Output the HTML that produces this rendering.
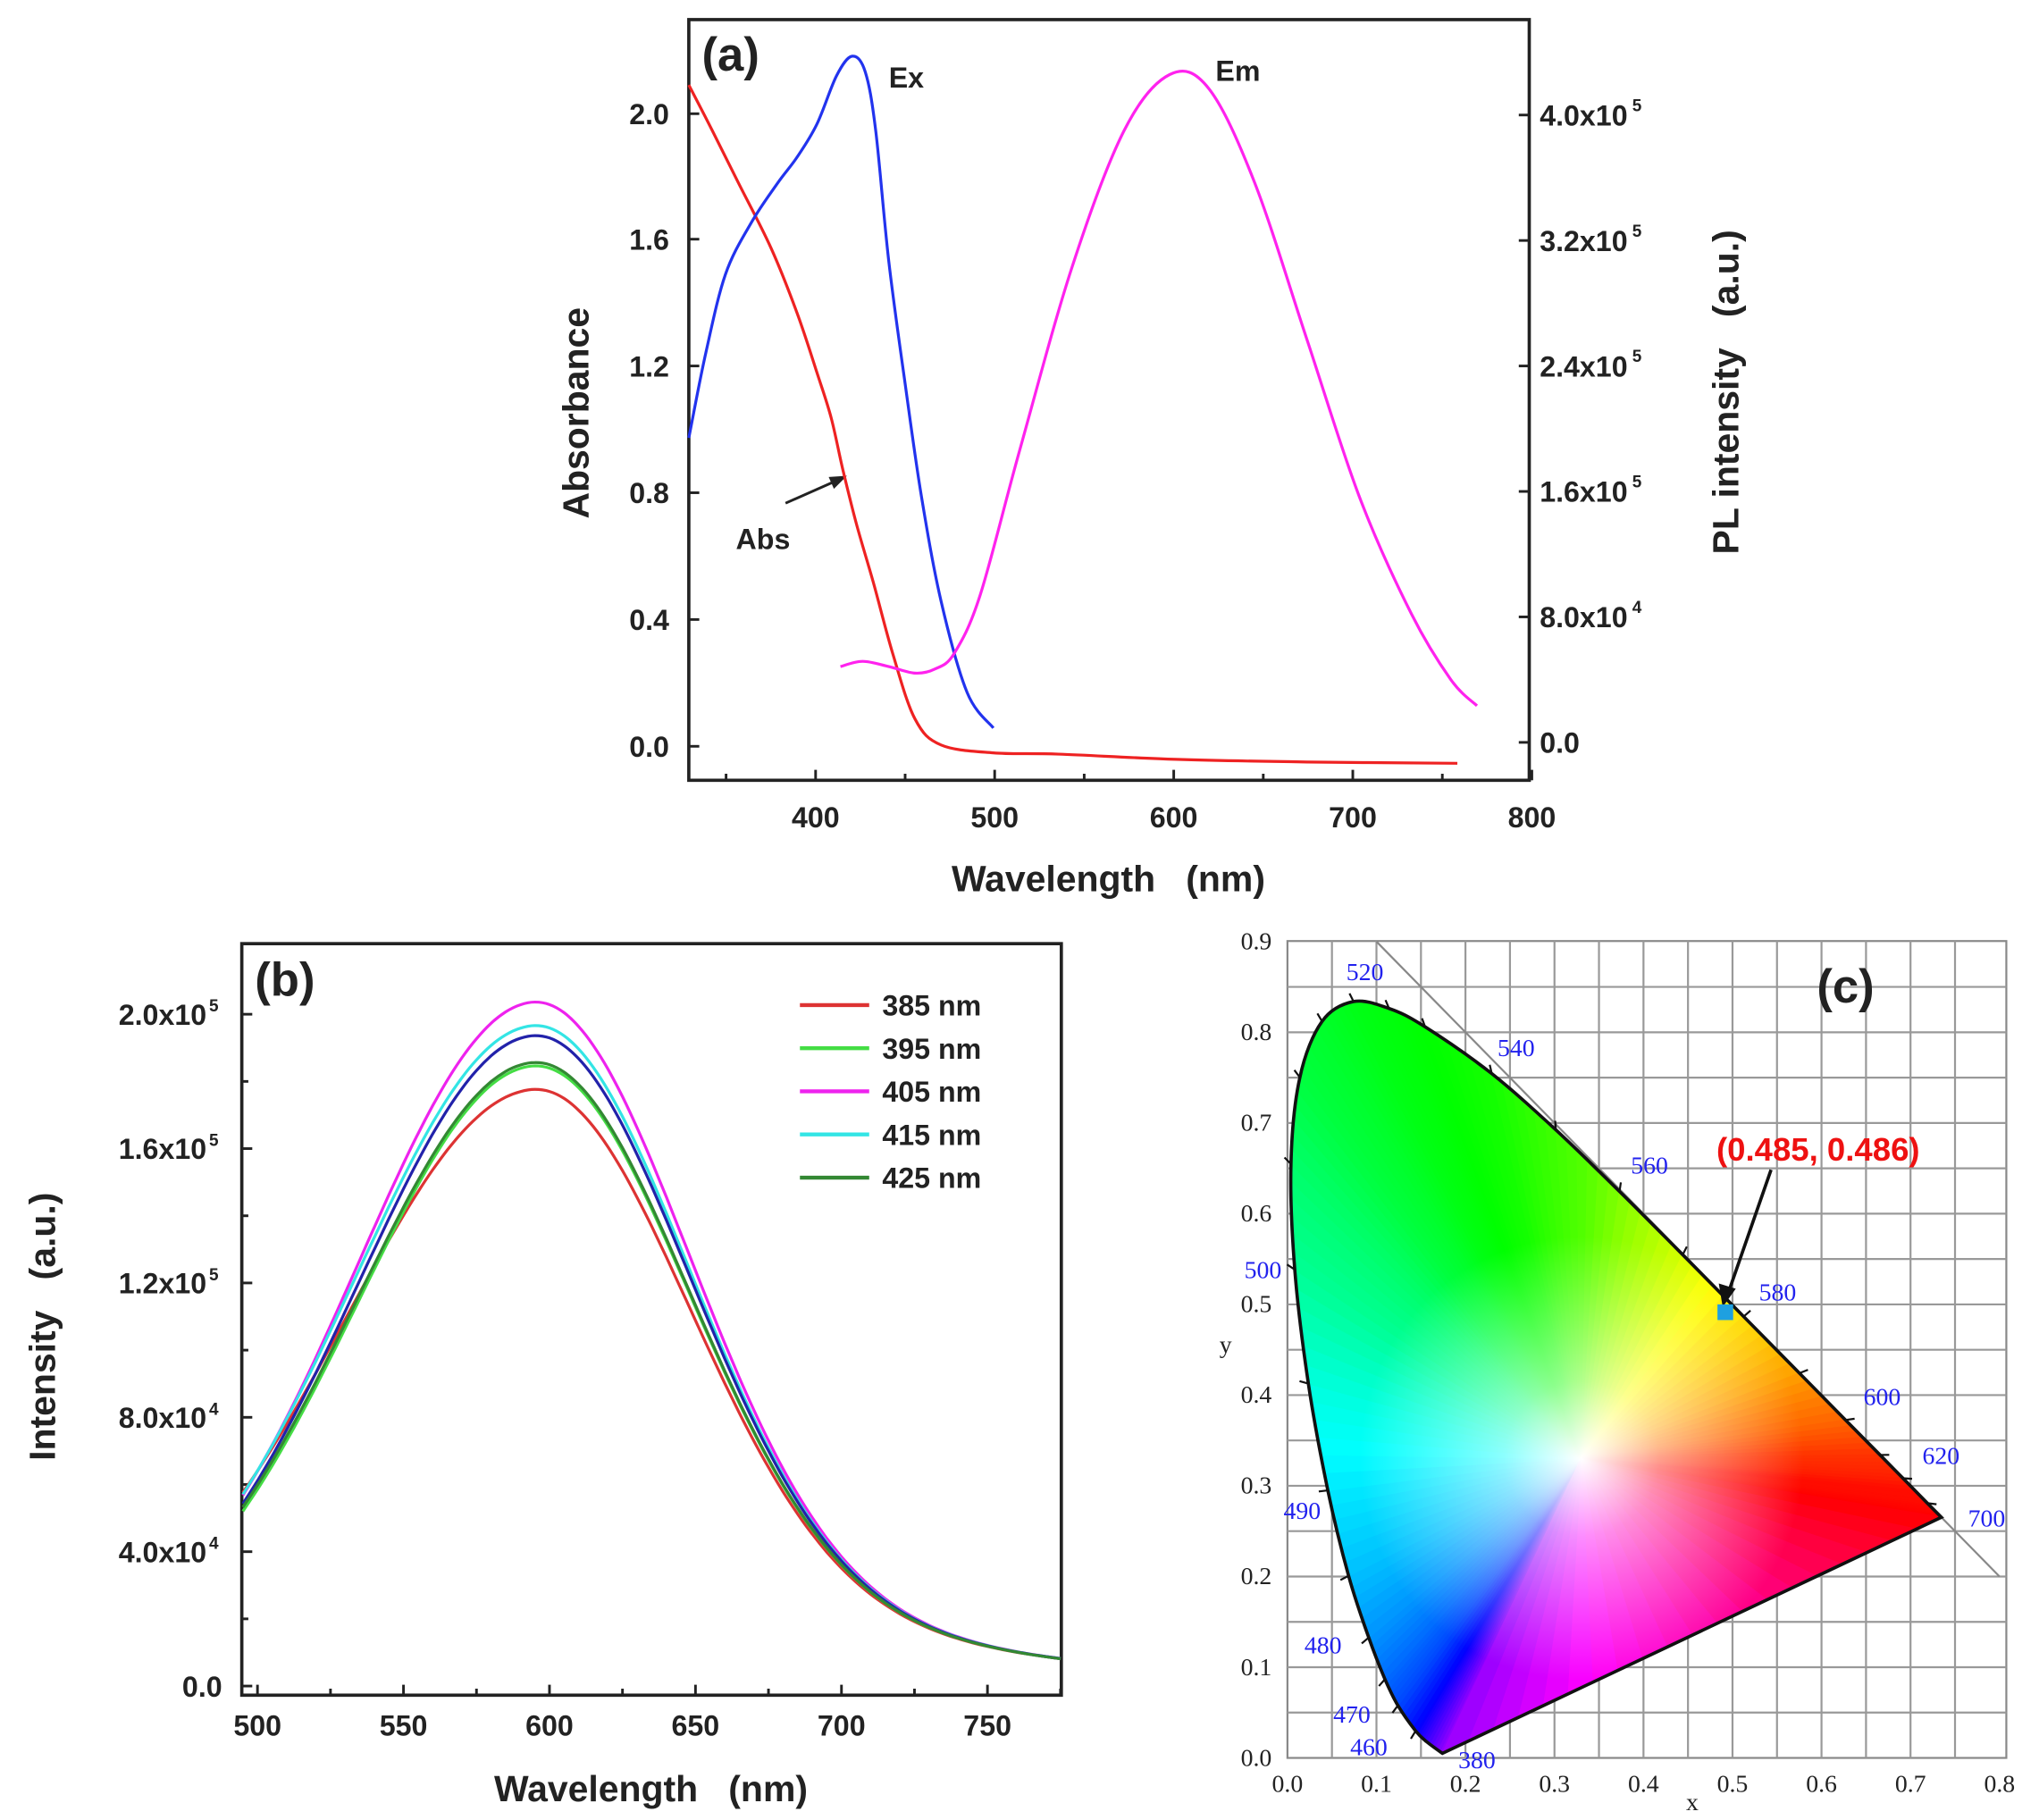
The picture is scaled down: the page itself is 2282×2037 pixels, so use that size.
<!DOCTYPE html>
<html><head><meta charset="utf-8"><style>
html,body{margin:0;padding:0;background:#fff;}
svg{display:block;}
text{font-family:"Liberation Sans",sans-serif;white-space:pre;}
.t{font-size:22px;font-weight:bold;fill:#222;}
.ti{font-size:28px;font-weight:bold;fill:#222;}
.c{font-family:"Liberation Serif",serif;font-size:19px;fill:#222;}
.w{font-family:"Liberation Serif",serif;font-size:19px;fill:#2222ee;}
</style></head><body>
<svg id="s" width="2282" height="2037" viewBox="0 0 1560 1392.5" preserveAspectRatio="none" xmlns="http://www.w3.org/2000/svg">
<defs>
<clipPath id="hs"><path id="hsp" d=""/></clipPath>
<radialGradient id="wg" cx="1210" cy="1116" r="170" gradientUnits="userSpaceOnUse">
<stop offset="0" stop-color="#fff" stop-opacity="1"/><stop offset="0.35" stop-color="#fff" stop-opacity="0.55"/><stop offset="1" stop-color="#fff" stop-opacity="0"/></radialGradient>
</defs>
<g id="A"></g><g id="B"></g><g id="C"></g>
</svg>
<script>
const NS="http://www.w3.org/2000/svg";
function el(p,tag,at,txt){const e=document.createElementNS(NS,tag);for(const k in at)e.setAttribute(k,at[k]);if(txt!==undefined)e.textContent=txt;document.getElementById(p).appendChild(e);return e;}
function smooth(pts){let d="M"+pts[0][0]+","+pts[0][1];for(let i=0;i<pts.length-1;i++){const p0=pts[Math.max(0,i-1)],p1=pts[i],p2=pts[i+1],p3=pts[Math.min(pts.length-1,i+2)];const c1=[p1[0]+(p2[0]-p0[0])/6,p1[1]+(p2[1]-p0[1])/6],c2=[p2[0]-(p3[0]-p1[0])/6,p2[1]-(p3[1]-p1[1])/6];d+=` C${c1[0].toFixed(1)},${c1[1].toFixed(1)} ${c2[0].toFixed(1)},${c2[1].toFixed(1)} ${p2[0].toFixed(1)},${p2[1].toFixed(1)}`;}return d;}
// Panel A
el("A","rect",{x:527,y:15,width:643,height:582,fill:"none",stroke:"#222","stroke-width":2.5});
const ax=w=>624+(w-400)*1.37;
for(let w=400;w<=800;w+=100){el("A","line",{x1:ax(w),y1:597,x2:ax(w),y2:589,stroke:"#222","stroke-width":2});el("A","text",{x:ax(w),y:633,"text-anchor":"middle",class:"t"},w);}
for(let w=350;w<=750;w+=100){el("A","line",{x1:ax(w),y1:597,x2:ax(w),y2:592,stroke:"#222","stroke-width":2});}
[["2.0",87],["1.6",183],["1.2",280],["0.8",377],["0.4",474],["0.0",571]].forEach(([l,y])=>{el("A","line",{x1:527,y1:y,x2:535,y2:y,stroke:"#222","stroke-width":2});el("A","text",{x:512,y:y+8,"text-anchor":"end",class:"t"},l);});
[["4.0x10",88,"5"],["3.2x10",184,"5"],["2.4x10",280,"5"],["1.6x10",376,"5"],["8.0x10",472,"4"],["0.0",568,""]].forEach(([l,y,e])=>{el("A","line",{x1:1162,y1:y,x2:1170,y2:y,stroke:"#222","stroke-width":2});const t=el("A","text",{x:1178,y:y+8,class:"t"},l);if(e)el("A","text",{x:1178+l.length*11.8,y:y-3,style:"font-size:13px;font-weight:bold",fill:"#222"},e);});
el("A","text",{x:848,y:682,"text-anchor":"middle",class:"ti"},"Wavelength   (nm)");
el("A","text",{x:450,y:316,"text-anchor":"middle",class:"ti",transform:"rotate(-90 450 316)"},"Absorbance");
el("A","text",{x:1330,y:300,"text-anchor":"middle",class:"ti",transform:"rotate(-90 1330 300)"},"PL intensity   (a.u.)");
el("A","text",{x:537,y:54,style:"font-size:36px;font-weight:bold",fill:"#222"},"(a)");
el("A","text",{x:680,y:67,class:"t"},"Ex");el("A","text",{x:930,y:62,class:"t"},"Em");el("A","text",{x:563,y:420,class:"t"},"Abs");
el("A","line",{x1:601,y1:385,x2:644,y2:366,stroke:"#222","stroke-width":2});el("A","path",{d:"M648,364 L634,365 L638,374 Z",fill:"#222"});
el("A","path",{d:smooth([[527,65],[545,100],[565,140],[590,190],[610,240],[625,285],[636,320],[645,360],[655,400],[668,445],[683,500],[700,550],[720,570],[760,576],[810,577],[900,581],[1000,583],[1115,584]]),fill:"none",stroke:"#ee2222","stroke-width":2.2});
el("A","path",{d:smooth([[527,335],[540,270],[555,210],[575,170],[595,140],[610,120],[625,95],[640,58],[652,43],[662,55],[670,100],[680,200],[692,290],[705,380],[720,460],[740,530],[760,557]]),fill:"none",stroke:"#2233ee","stroke-width":2.2});
el("A","path",{d:smooth([[643,510],[660,506],[680,510],[700,515],[715,512],[730,500],[750,455],[780,345],[820,205],[860,100],[895,57],[925,68],[960,140],[1000,260],[1040,380],[1080,470],[1110,520],[1130,540]]),fill:"none",stroke:"#ff22ee","stroke-width":2.2});
// Panel B
el("B","rect",{x:185,y:722,width:627,height:575,fill:"none",stroke:"#222","stroke-width":2.5});
const bx=w=>197+(w-500)*2.234, by=v=>1290-v/4e4*102.8;
for(let w=500;w<=750;w+=50){el("B","line",{x1:bx(w),y1:1297,x2:bx(w),y2:1289,stroke:"#222","stroke-width":2});el("B","text",{x:bx(w),y:1328,"text-anchor":"middle",class:"t"},w);}
for(let w=525;w<=775;w+=50){el("B","line",{x1:bx(w),y1:1297,x2:bx(w),y2:1292,stroke:"#222","stroke-width":2});}
[["2.0x10",2e5,"5"],["1.6x10",1.6e5,"5"],["1.2x10",1.2e5,"5"],["8.0x10",8e4,"4"],["4.0x10",4e4,"4"],["0.0",0,""]].forEach(([l,v,e])=>{const y=by(v);el("B","line",{x1:185,y1:y,x2:193,y2:y,stroke:"#222","stroke-width":2});el("B","text",{x:e?158:170,y:y+8,"text-anchor":"end",class:"t"},l);if(e)el("B","text",{x:160,y:y-2,style:"font-size:13px;font-weight:bold",fill:"#222"},e);});
for(let v=2e4;v<2.2e5;v+=4e4){el("B","line",{x1:185,y1:by(v),x2:190,y2:by(v),stroke:"#222","stroke-width":2});}
el("B","text",{x:498,y:1378,"text-anchor":"middle",class:"ti"},"Wavelength   (nm)");
el("B","text",{x:42,y:1015,"text-anchor":"middle",class:"ti",transform:"rotate(-90 42 1015)"},"Intensity   (a.u.)");
el("B","text",{x:195,y:762,style:"font-size:36px;font-weight:bold",fill:"#222"},"(b)");
function curve(peak,sl,col){const pts=[];for(let w=495;w<=775;w+=5){const s=w<595?sl:52;const v=(peak-0.1*1.78e5)*Math.exp(-((w-595)**2)/(2*s*s))+0.1*1.78e5*Math.exp(-((w-620)**2)/(2*120*120));pts.push([bx(w),by(v)]);}el("B","path",{d:smooth(pts),fill:"none",stroke:col,"stroke-width":2.2});}
curve(1.78e5,64,"#dd3333");curve(1.85e5,60,"#44dd44");curve(2.04e5,60,"#ee22ee");curve(1.97e5,61,"#33e5e5");curve(1.94e5,60,"#2222aa");curve(1.86e5,60.5,"#338833");
[["385 nm","#dd3333"],["395 nm","#44dd44"],["405 nm","#ee22ee"],["415 nm","#33e5e5"],["425 nm","#338833"]].forEach(([l,c],i)=>{const y=769+i*33;el("B","line",{x1:612,y1:y,x2:665,y2:y,stroke:c,"stroke-width":3});el("B","text",{x:675,y:y+8,class:"t"},l);});
// Panel C
const cx=x=>985+x*681, cy=y=>1345-y*694;
el("C","rect",{x:985,y:720,width:550,height:625,fill:"#fff",stroke:"#888","stroke-width":1.5});
for(let x=0.05;x<0.8;x+=0.05)el("C","line",{x1:cx(x),y1:720,x2:cx(x),y2:1345,stroke:"#999","stroke-width":1.5});
for(let y=0.05;y<0.9;y+=0.05)el("C","line",{x1:985,y1:cy(y),x2:1535,y2:cy(y),stroke:"#999","stroke-width":1.5});
el("C","line",{x1:cx(0.1),y1:cy(0.9),x2:cx(0.8),y2:cy(0.2),stroke:"#888","stroke-width":1.5});
const loc=[[380,.1741,.005],[450,.1566,.0177],[460,.144,.0297],[470,.1241,.0578],[475,.1096,.0868],[480,.0913,.1327],[485,.0687,.2007],[490,.0454,.295],[495,.0235,.4127],[500,.0082,.5384],[505,.0039,.6548],[510,.0139,.7502],[515,.0389,.812],[520,.0743,.8338],[525,.1142,.8262],[530,.1547,.8059],[540,.2296,.7543],[550,.3016,.6923],[560,.3731,.6245],[570,.4441,.5547],[580,.5125,.4866],[590,.5752,.4242],[600,.627,.3725],[610,.6658,.334],[620,.6915,.3083],[640,.719,.2809],[700,.7347,.2653]];
const lp=loc.map(p=>[cx(p[1]),cy(p[2])]);
const hsd=smooth(lp)+" Z";
document.getElementById("hsp").setAttribute("d",hsd);
const hueK=[[380,275],[450,255],[460,240],[475,215],[485,195],[490,185],[495,172],[500,155],[510,135],[520,125],[540,115],[555,100],[565,80],[575,60],[585,45],[595,30],[610,12],[630,3],[700,0]];
function hue(w){for(let i=0;i<hueK.length-1;i++){if(w<=hueK[i+1][0]){const t=(w-hueK[i][0])/(hueK[i+1][0]-hueK[i][0]);return hueK[i][1]+t*(hueK[i+1][1]-hueK[i][1]);}}return 0;}
const g=el("C","g",{"clip-path":"url(#hs)"});
const W=[cx(0.33),cy(0.33)];
function wedge(p1,p2,h){const e=document.createElementNS(NS,"polygon");e.setAttribute("points",`${W[0]},${W[1]} ${p1[0]+(p1[0]-W[0])*0.1},${p1[1]+(p1[1]-W[1])*0.1} ${p2[0]+(p2[0]-W[0])*0.1},${p2[1]+(p2[1]-W[1])*0.1}`);e.setAttribute("fill",`hsl(${h},100%,50%)`);e.setAttribute("stroke",`hsl(${h},100%,50%)`);e.setAttribute("stroke-width","1");g.appendChild(e);}
for(let i=0;i<loc.length-1;i++){const n=6;for(let k=0;k<n;k++){const t0=k/n,t1=(k+1)/n;const a=[lp[i][0]+(lp[i+1][0]-lp[i][0])*t0,lp[i][1]+(lp[i+1][1]-lp[i][1])*t0],b=[lp[i][0]+(lp[i+1][0]-lp[i][0])*t1,lp[i][1]+(lp[i+1][1]-lp[i][1])*t1];wedge(a,b,hue(loc[i][0]+(loc[i+1][0]-loc[i][0])*(t0+t1)/2));}}
const r=lp[lp.length-1],v=lp[0];for(let k=0;k<20;k++){const t0=k/20,t1=(k+1)/20;wedge([r[0]+(v[0]-r[0])*t0,r[1]+(v[1]-r[1])*t0],[r[0]+(v[0]-r[0])*t1,r[1]+(v[1]-r[1])*t1],360-(k+0.5)/20*85);}
const wr=document.createElementNS(NS,"rect");wr.setAttribute("x",985);wr.setAttribute("y",720);wr.setAttribute("width",550);wr.setAttribute("height",625);wr.setAttribute("fill","url(#wg)");g.appendChild(wr);
el("C","path",{d:hsd,fill:"none",stroke:"#111","stroke-width":2.5});
for(let i=1;i<loc.length-1;i++){if(loc[i][0]<460)continue;const p=lp[i],dx=p[0]-W[0],dy=p[1]-W[1],L=Math.hypot(dx,dy);el("C","line",{x1:p[0],y1:p[1],x2:p[0]+dx/L*7,y2:p[1]+dy/L*7,stroke:"#111","stroke-width":1.5});}
[["0.9",.9],["0.8",.8],["0.7",.7],["0.6",.6],["0.5",.5],["0.4",.4],["0.3",.3],["0.2",.2],["0.1",.1],["0.0",0]].forEach(([l,y])=>el("C","text",{x:973,y:cy(y)+6,"text-anchor":"end",class:"c"},l));
for(let i=0;i<=8;i++)el("C","text",{x:cx(i/10),y:1371,"text-anchor":"middle",class:"c"},(i/10).toFixed(1));
el("C","text",{x:1290,y:1385,class:"c"},"x");el("C","text",{x:933,y:1035,class:"c"},"y");
[["520",1030,750],["540",1160,808],["560",1262,898],["580",1360,995],["600",1440,1075],["620",1485,1120],["700",1520,1168],["500",952,978],["490",982,1162],["480",998,1265],["470",1020,1318],["460",1033,1343],["380",1130,1353]].forEach(([l,x,y])=>el("C","text",{x:x,y:y,"text-anchor":x<1120?"start":"middle",class:"w"},l));
el("C","text",{x:1412,y:767,"text-anchor":"middle",style:"font-size:36px;font-weight:bold",fill:"#222"},"(c)");
el("C","text",{x:1391,y:888,"text-anchor":"middle",style:"font-size:25px;font-weight:bold",fill:"#ee1111"},"(0.485, 0.486)");
el("C","line",{x1:1355,y1:895,x2:1322,y2:990,stroke:"#111","stroke-width":2.5});el("C","path",{d:"M1318,1000 L1315,982 L1328,986 Z",fill:"#111"});
el("C","rect",{x:1314,y:998,width:12,height:12,fill:"#1ea0e0"});
</script>
</body></html>
